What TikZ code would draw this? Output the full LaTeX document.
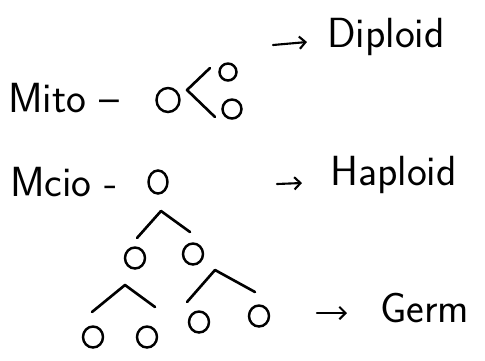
\documentclass[tikz,border=0pt]{standalone}
\usepackage{tikz}
\usetikzlibrary{arrows.meta,shapes.geometric}

\begin{document}
\begin{tikzpicture}[x=0.02cm, y=-0.02cm,
    word/.style={font=\fontsize{24}{28}\selectfont\sffamily, inner sep=0pt, anchor=base west},
    cell/.style={draw, ellipse, line width=1.4pt, inner sep=0pt, minimum width=0.4cm, minimum height=0.42cm},
    bigcell/.style={cell, minimum width=0.46cm, minimum height=0.48cm},
    branch/.style={line width=1.5pt, line cap=round, line join=round},
    pointer/.style={line width=1.2pt, line cap=round, -{Straight Barb[length=3.5pt,width=7pt]}}
]
    \useasboundingbox (0,0) rectangle (485,360);

    % mitosis
    \node[word] (mito) at (8,112) {Mito --};
    \node[bigcell] (m0) at (168,100) {};
    \node[cell, minimum width=0.34cm, minimum height=0.34cm] (m1) at (228,72) {};
    \node[cell, minimum width=0.38cm, minimum height=0.38cm] (m2) at (232,109) {};
    \coordinate (mt) at (210,68);
    \coordinate (mv) at (187,90);
    \coordinate (mb) at (215,117);
    \draw[branch] (mt) -- (mv) -- (mb);

    \coordinate (a1) at (273,45);
    \coordinate (a1e) at (307,42);
    \draw[pointer] (a1) -- (a1e);
    \node[word] (dip) at (327,47) {Diploid};

    % meiosis
    \node[word] (mcio) at (10,196) {Mcio -};
    \node[cell, minimum width=0.38cm, minimum height=0.46cm] (h0) at (158,182) {};
    \node[cell] (h1) at (135,258) {};
    \node[cell] (h2) at (193,254) {};
    \coordinate (hl) at (137,238);
    \coordinate (hv) at (161,211);
    \coordinate (hr) at (190,232);
    \draw[branch] (hl) -- (hv) -- (hr);

    \coordinate (a2) at (277,184);
    \coordinate (a2e) at (302,183);
    \draw[pointer] (a2) -- (a2e);
    \node[word] (hap) at (330,185) {Haploid};

    \foreach \x/\y/\n in {93/337/g1, 147/337/g2, 199/322/g3, 259/316/g4}
        \node[cell] (\n) at (\x,\y) {};
    \draw[branch] (92,312) coordinate (gl1) -- (125,285) coordinate (gv1) -- (155,307) coordinate (gr1);
    \draw[branch] (187,302) coordinate (gl2) -- (215,270) coordinate (gv2) -- (255,292) coordinate (gr2);

    \coordinate (a3) at (317,313);
    \coordinate (a3e) at (347,313);
    \draw[pointer] (a3) -- (a3e);
    \node[word] (germ) at (380,322) {Germ};
\end{tikzpicture}
\end{document}
